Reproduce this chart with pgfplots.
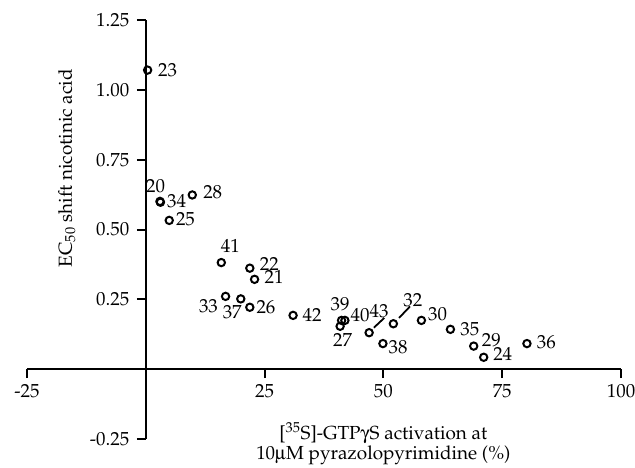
\documentclass[border=0pt]{standalone}
\usepackage[T1]{fontenc}
\usepackage{mathpazo}
\usepackage[Symbol]{upgreek}
\usepackage{pgfplots}
\pgfplotsset{compat=1.18}
\begin{document}
\begin{tikzpicture}[font=\fontsize{19}{20}\selectfont]
\begin{axis}[
 scale only axis, width=597pt, height=421pt,
 xmin=-25,xmax=100,ymin=-0.25,ymax=1.25,
 axis lines=middle,
 axis line style={-, line width=2pt},
 xtick={-25,25,50,75,100}, xticklabels={-25,25,50,75,100},
 ytick={-0.25,0.25,0.5,0.75,1,1.25}, yticklabels={-0.25,0.25,0.50,0.75,1.00,1.25},
 tick align=outside, major tick length=9pt,
 tick style={line width=2pt, black},
 yticklabel style={xshift=-4pt},
 xticklabel style={yshift=-3pt},
 xlabel={[\textsuperscript{35}S]-GTP$\upgamma$S activation at\\10$\upmu$M pyrazolopyrimidine (\%)},
 ylabel={EC$_{50}$ shift nicotinic acid},
 every axis x label/.style={at={(axis cs:50,-0.267)}, anchor=center, align=center},
 every axis y label/.style={at={(axis cs:-16.6,0.72)}, anchor=center, rotate=90},
 clip=false,
]
\addplot[only marks, mark=o, mark size=3.7pt, line width=2pt] table {
x y
0.4 1.071
3.0 0.601
3.1 0.598
9.8 0.624
4.95 0.533
15.9 0.382
21.9 0.362
22.9 0.322
16.8 0.261
20.0 0.252
21.9 0.222
31.0 0.193
41.2 0.175
41.9 0.175
40.9 0.154
47.0 0.131
49.9 0.092
52.1 0.163
58.0 0.175
64.1 0.143
69.0 0.083
71.1 0.043
80.2 0.092
};
\addplot[line width=1.8pt, no marks] coordinates {(48.0,0.149) (50.2,0.184)};
\addplot[line width=1.8pt, no marks] coordinates {(53.3,0.184) (55.6,0.225)};
\node at (axis cs:4.59,1.071) {23};
\node at (axis cs:2.08,0.655) {20};
\node at (axis cs:6.52,0.602) {34};
\node at (axis cs:14.1,0.635) {28};
\node at (axis cs:8.37,0.539) {25};
\node at (axis cs:17.8,0.441) {41};
\node at (axis cs:26.0,0.377) {22};
\node at (axis cs:27.0,0.329) {21};
\node at (axis cs:13.2,0.225) {33};
\node at (axis cs:18.2,0.205) {37};
\node at (axis cs:25.3,0.223) {26};
\node at (axis cs:35.0,0.195) {42};
\node at (axis cs:40.9,0.234) {39};
\node at (axis cs:45.1,0.195) {40};
\node at (axis cs:41.4,0.104) {27};
\node at (axis cs:49.1,0.209) {43};
\node at (axis cs:53.1,0.080) {38};
\node at (axis cs:56.2,0.248) {32};
\node at (axis cs:61.4,0.198) {30};
\node at (axis cs:68.2,0.144) {35};
\node at (axis cs:72.7,0.105) {29};
\node at (axis cs:75.1,0.056) {24};
\node at (axis cs:84.3,0.098) {36};
\end{axis}
\pgfresetboundingbox
\path[use as bounding box] ([xshift=-27pt,yshift=-28.8pt]current axis.south west) rectangle ([xshift=14pt,yshift=20.2pt]current axis.north east);
\end{tikzpicture}
\end{document}
